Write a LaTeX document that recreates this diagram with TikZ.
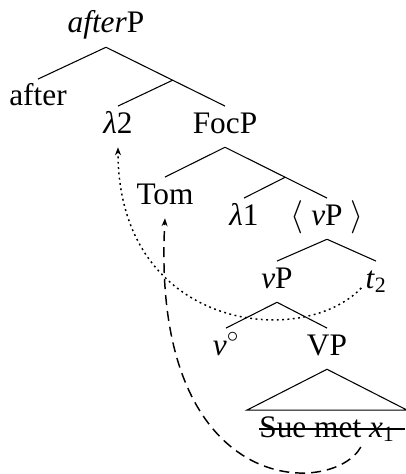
\documentclass[tikz,border=0pt]{standalone}
\usepackage{fontspec}
\setmainfont{Liberation Serif}
\usetikzlibrary{arrows.meta,calc}

\begin{document}
\begin{tikzpicture}[x=0.75pt,y=0.75pt,yscale=-1,xscale=1,
	lbl/.style={anchor=base,inner sep=3pt,text height=17pt,text depth=7.5pt,font=\fontsize{23.5}{27}\selectfont},
	branch/.style={line width=0.8pt},
	move/.style={line width=1.1pt,-{Stealth[length=6pt,width=4.5pt]}}]
			\useasboundingbox (0,0) rectangle (405,474);

			% Text Node
			\node[lbl] (afterP) at (106,33) {\textit{after}P};
			% Text Node
			\node[lbl] (after) at (38,106) {after};
			% Text Node
			\node[lbl] (lam2) at (118,133) {\textit{λ}2};
			% Text Node
			\node[lbl] (FocP) at (225,133) {FocP};
			% Text Node
			\node[lbl] (Tom) at (165,204) {Tom};
			% Text Node
			\node[lbl] (lam1) at (244,225) {\textit{λ}1};
			% Text Node
			\node[lbl] (vPcopy) at (327,225) {$\langle$ \textit{v}P $\rangle$};
			% Text Node
			\node[lbl] (vP) at (277,288) {\textit{v}P};
			% Text Node
			\node[lbl] (t2) at (376,288) {\textit{t}\textsubscript{2}};
			% Text Node
			\node[lbl] (vhead) at (226,355) {\textit{v}$^{\circ}$};
			% Text Node
			\node[lbl] (VP) at (327,355) {VP};
			% Text Node
			\node[lbl] (sue) at (327,437) {Sue met \textit{x}\textsubscript{1}};

			%Branch points
			\coordinate (b1) at ($(afterP.south)!0.56!(FocP.north)$);
			\coordinate (b2) at ($(FocP.south)!0.59!(vPcopy.north)$);
			\coordinate (x1) at ($(sue.base east)+(-38,10)$);

			%Straight Lines
			\draw[branch] (afterP.south) -- (after.north);
			\draw[branch] (afterP.south) -- (FocP.north);
			\draw[branch] (b1) -- (lam2.north);
			%Straight Lines
			\draw[branch] (FocP.south) -- (Tom.north);
			\draw[branch] (FocP.south) -- (vPcopy.north);
			\draw[branch] (b2) -- (lam1.north);
			%Straight Lines
			\draw[branch] (vPcopy.south) -- (vP.north);
			\draw[branch] (vPcopy.south) -- (t2.north);
			%Straight Lines
			\draw[branch] (vP.south) -- (vhead.north);
			\draw[branch] (vP.south) -- (VP.north);
			%Shape: Triangle
			\draw[branch] (VP.south) -- ($(sue.north)+(-80,0)$) -- ($(sue.north)+(80,0)$) -- cycle;
			%Strike out
			\draw[branch,line width=1pt] ($(sue.base west)+(4,-8)$) -- ($(sue.base east)+(6,-8)$);

			%Curve Lines
			\draw[move,dash pattern={on 1.4pt off 2.6pt}] (t2.base west) .. controls +(-59,62) and +(0,183) .. (lam2.south);
			%Curve Lines
			\draw[move,dash pattern={on 7.5pt off 4.5pt}] (x1) .. controls +(-28,50) and +(-15,282) .. (Tom.south);

\end{tikzpicture}
\end{document}
